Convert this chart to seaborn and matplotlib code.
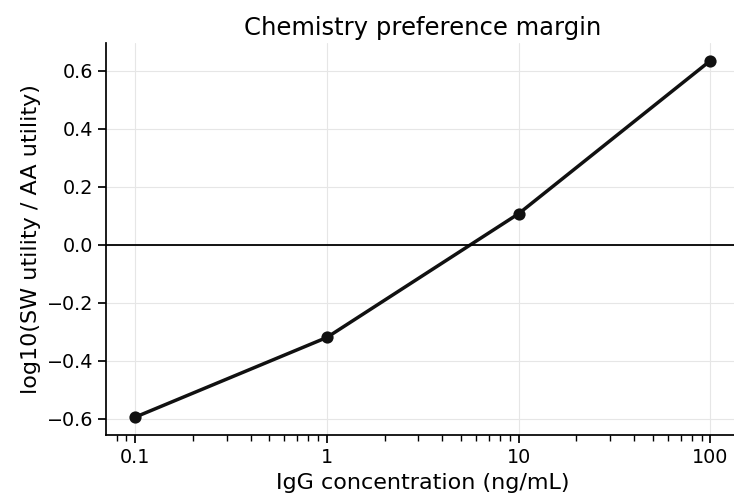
import matplotlib
matplotlib.use("Agg")
import matplotlib.pyplot as plt
import seaborn as sns
import pandas as pd
from matplotlib.ticker import FixedLocator, FixedFormatter

conc = [0.1, 1, 10, 100]
margin = [-0.595, -0.320, 0.107, 0.635]
tick_labels = ["0.1", "1", "10", "100"]

sns.set_theme(style="ticks", context="notebook")
plt.rcParams['font.family'] = ['DejaVu Sans']
for k in ["text.color", "axes.labelcolor", "xtick.color", "ytick.color", "axes.edgecolor"]:
    plt.rcParams[k] = "black"

df = pd.DataFrame({"conc": conc, "margin": margin})
fig, ax = plt.subplots(figsize=(7.34, 5.04), dpi=100)
ax.set_xscale("log")
sns.lineplot(data=df, x="conc", y="margin", ax=ax, color="#111111", linewidth=2.5,
             marker="o", markersize=8.8, markeredgewidth=0)
ax.axhline(0, color="black", linewidth=1.3)
ax.xaxis.set_major_locator(FixedLocator(conc))
ax.xaxis.set_major_formatter(FixedFormatter(tick_labels))
ax.grid(True, which="major", color="#e6e6e6", linewidth=0.8)
ax.set_axisbelow(True)
sns.despine(ax=ax)
ax.set_title("Chemistry preference margin", fontsize=17.5)
ax.set_xlabel("IgG concentration (ng/mL)", fontsize=16)
ax.set_ylabel("log10(SW utility / AA utility)", fontsize=16)
ax.tick_params(labelsize=13.8)
fig.subplots_adjust(left=0.145, right=1.007, top=0.915, bottom=0.137)
fig.savefig("out.png", dpi=100)
